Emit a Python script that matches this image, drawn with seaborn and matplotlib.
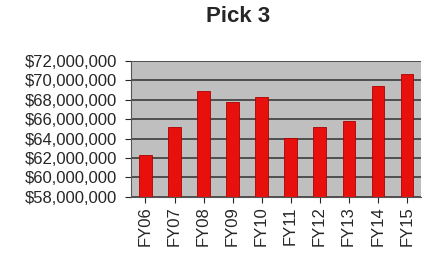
import seaborn as sns
import matplotlib.pyplot as plt
import matplotlib.ticker as mticker
import pandas as pd

years = ['FY06', 'FY07', 'FY08', 'FY09', 'FY10', 'FY11', 'FY12', 'FY13', 'FY14', 'FY15']
sales = [62.3e6, 65.2e6, 68.9e6, 67.8e6, 68.3e6, 64.1e6, 65.2e6, 65.8e6, 69.4e6, 70.7e6]

df = pd.DataFrame({'year': years, 'sales': sales})

sns.set_style('white')
plt.rcParams['font.family'] = ['Liberation Sans', 'DejaVu Sans']

fig, ax = plt.subplots(figsize=(4.41, 2.54), dpi=100)
fig.subplots_adjust(left=0.297, right=0.955, top=0.76, bottom=0.225)

ax.set_facecolor('#bfbfbf')
ax.set_axisbelow(True)
ax.grid(axis='y', color='#3c3c3c', linewidth=1.2)

sns.barplot(x='year', y='sales', data=df, color='#e8100c', width=0.42,
            edgecolor='#b00000', linewidth=0.6, saturation=1, ax=ax)

ax.set_ylim(58e6, 72e6)
ax.yaxis.set_major_locator(mticker.MultipleLocator(2e6))
ax.yaxis.set_major_formatter(mticker.FuncFormatter(lambda v, p: '${:,.0f}'.format(v)))
ax.set_xlim(-0.5, len(years) - 0.5)

ax.tick_params(axis='y', labelsize=12, length=4, left=True, pad=6)
ax.tick_params(axis='x', labelsize=12, length=4, bottom=True, rotation=90, pad=3)
ax.set_xlabel('')
ax.set_ylabel('')
for s in ['top', 'right']:
    ax.spines[s].set_visible(False)
ax.spines['left'].set_color('#555555')
ax.spines['bottom'].set_color('#555555')

fig.suptitle('Pick 3', x=0.54, y=0.975, va='top', fontsize=16, fontweight='bold')

plt.savefig('out.png', dpi=100)
